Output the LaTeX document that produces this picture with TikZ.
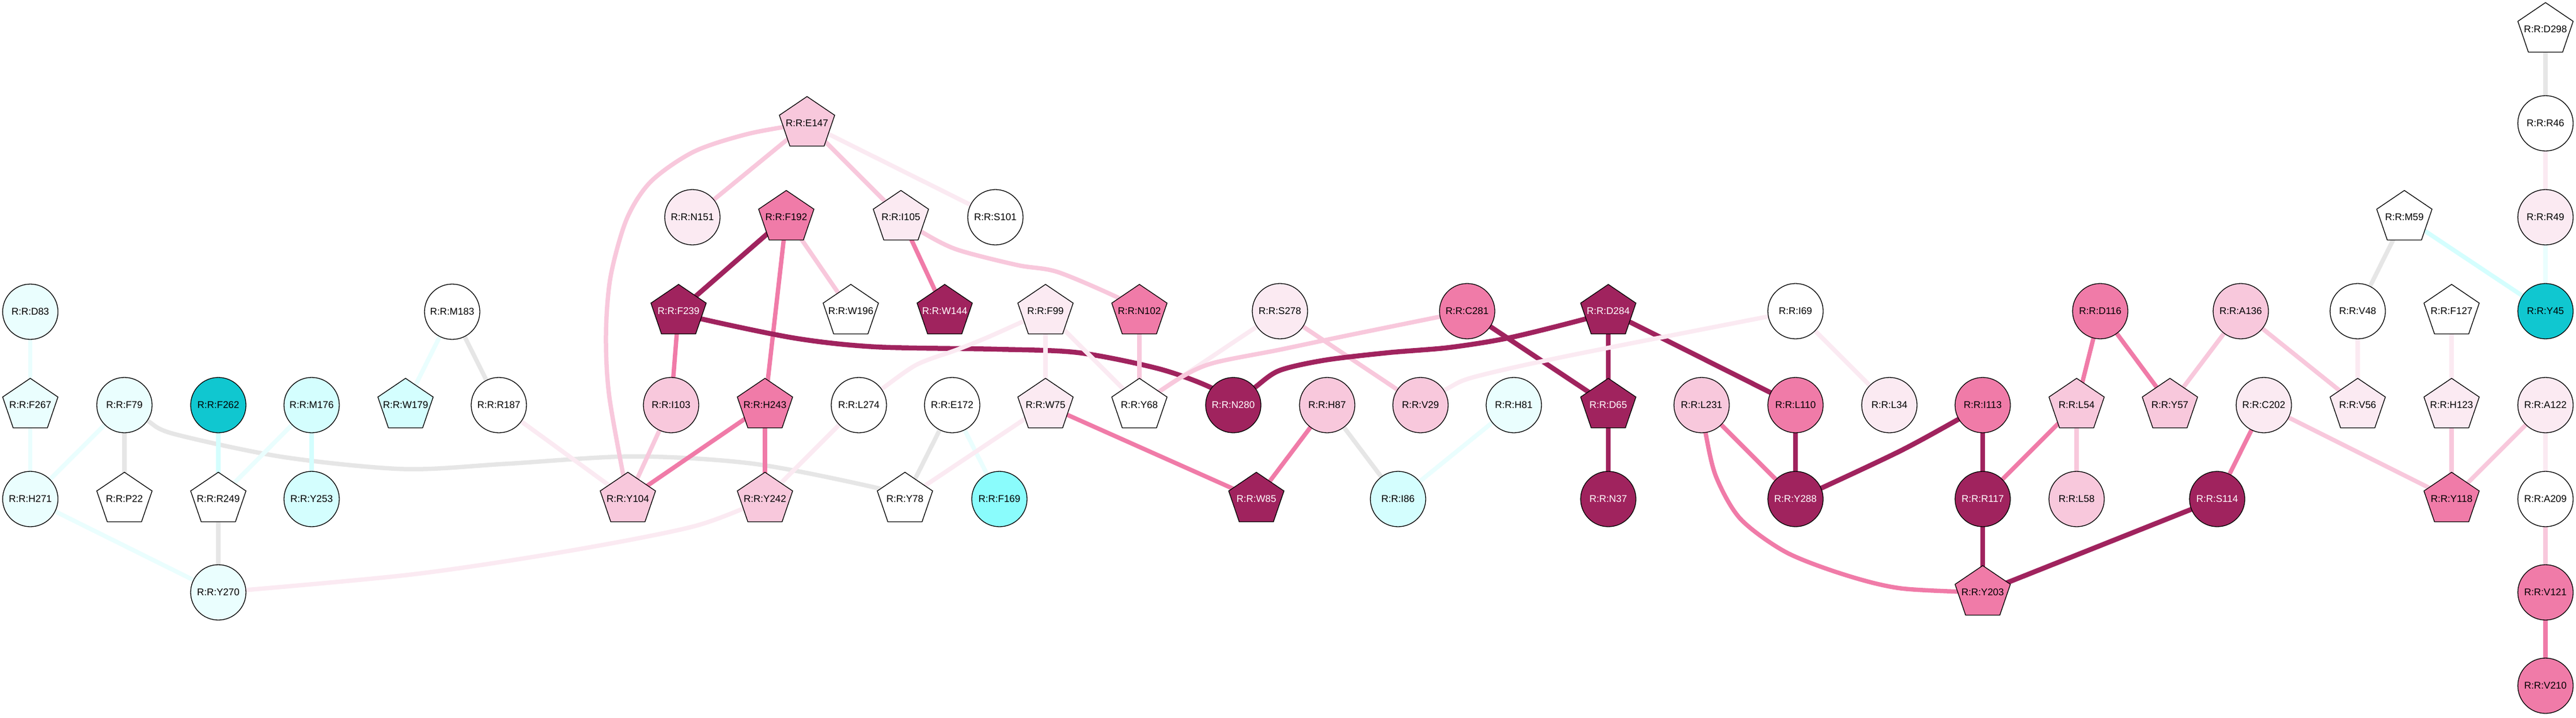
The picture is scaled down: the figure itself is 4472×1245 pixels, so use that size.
\documentclass[tikz,border=0pt]{standalone}
\usepackage{fontspec}
\setmainfont{Liberation Sans}
\pgfdeclarelayer{bg}
\pgfdeclarelayer{edges}
\pgfsetlayers{bg,edges,main}
\definecolor{cyv}{HTML}{EAFEFE}
\definecolor{cyl}{HTML}{D4FEFE}
\definecolor{cym}{HTML}{8AFCFC}
\definecolor{cys}{HTML}{10C7D0}
\definecolor{pkv}{HTML}{FBEAF2}
\definecolor{pkl}{HTML}{F8C8DC}
\definecolor{pkm}{HTML}{F07BA8}
\definecolor{pkd}{HTML}{A0235E}
\definecolor{grl}{HTML}{E6E6E6}
\tikzset{
  lbl/.style={inner sep=0pt, font=\fontsize{17}{20}\selectfont, text=black},
  circ/.style={circle, draw=black, line width=1.3pt, minimum size=96pt, inner sep=0pt, font=\fontsize{17}{20}\selectfont, text=black},
  pentpath/.style={draw=black, line width=1.3pt, line join=miter},
  wt/.style={text=white},
  edge/.style={line width=7.5pt, line cap=butt, line join=round},
  dk/.style={edge, draw=pkd, line width=8.5pt},
  md/.style={edge, draw=pkm},
  lt/.style={edge, draw=pkl},
  vl/.style={edge, draw=pkv},
  gr/.style={edge, draw=grl},
  cv/.style={edge, draw=cyv},
  cl/.style={edge, draw=cyl},
}
\newcommand{\cn}[5][]{\node[circ, fill=#5, #1] (#2) at (#3,#4) {R:R:#2};}
\newcommand{\pn}[5][]{\path[pentpath, fill=#5] (#3,#4) ++(0,-46.5) -- ++(48,32.5) -- ++(-18.3,53.5) -- ++(-59.4,0) -- ++(-18.3,-53.5) -- cycle;
  \node[lbl, #1] (#2) at (#3,#4) {R:R:#2};}
\begin{document}
\begin{tikzpicture}[x=1pt,y=-1pt]
\begin{pgfonlayer}{bg}
\fill[white] (0,0) rectangle (4472,1245);
\end{pgfonlayer}
\useasboundingbox (0,0) rectangle (4472,1245);
% left block
\cn{D83}{52.6}{541}{cyv}
\pn{F267}{52.6}{703}{cyv}
\cn{F79}{216}{703}{cyv}
\cn{F262}{379}{703}{cys}
\cn{M176}{541}{703}{cyl}
\pn{W179}{704}{703}{cyl}
\cn{R187}{866}{703}{white}
\cn{M183}{785}{541}{white}
\cn{H271}{52.6}{866}{cyv}
\pn{P22}{216}{866}{white}
\pn{R249}{379}{866}{white}
\cn{Y253}{541}{866}{cyl}
\cn{Y270}{379}{1028}{cyv}
% middle-left block
\pn{E147}{1401}{214}{pkl}
\cn{N151}{1202}{377}{pkv}
\pn{F192}{1365}{377}{pkm}
\pn{I105}{1564}{377}{pkv}
\cn{S101}{1728}{377}{white}
\pn[wt]{F239}{1178}{540}{pkd}
\pn{W196}{1477}{540}{white}
\pn[wt]{W144}{1640}{540}{pkd}
\pn{F99}{1815}{540}{pkv}
\pn{N102}{1978}{540}{pkm}
\cn{I103}{1165}{703}{pkl}
\pn{H243}{1328}{703}{pkm}
\cn{L274}{1491}{703}{white}
\cn{E172}{1653}{703}{white}
\pn{W75}{1815}{703}{pkv}
\pn{Y68}{1978}{703}{white}
\cn[wt]{N280}{2141}{703}{pkd}
\pn{Y104}{1090}{866}{pkl}
\pn{Y242}{1328}{866}{pkl}
\pn{Y78}{1571}{866}{white}
\cn{F169}{1735}{866}{cym}
\pn[wt]{W85}{2181}{866}{pkd}
% middle block
\cn{S278}{2222}{540}{pkv}
\cn{C281}{2547}{540}{pkm}
\pn[wt]{D284}{2792}{540}{pkd}
\cn{I69}{3117}{540}{white}
\cn{H87}{2304}{703}{pkl}
\cn{V29}{2466}{703}{pkl}
\cn{H81}{2628}{703}{cyv}
\pn[wt]{D65}{2792}{703}{pkd}
\cn{L231}{2954}{703}{pkl}
\cn{L110}{3117}{703}{pkm}
\cn{L34}{3280}{703}{pkv}
\cn{I86}{2427}{866}{cyl}
\cn[wt]{N37}{2792}{866}{pkd}
\cn[wt]{Y288}{3117}{866}{pkd}
% right block
\pn{D298}{4419}{51}{white}
\cn{R46}{4419}{214}{white}
\pn{M59}{4174}{377}{white}
\cn{R49}{4419}{377}{pkv}
\cn{D116}{3646}{540}{pkm}
\cn{A136}{3890}{540}{pkl}
\cn{V48}{4093}{540}{white}
\pn{F127}{4256}{540}{white}
\cn{Y45}{4419}{540}{cys}
\cn{I113}{3442}{703}{pkm}
\pn{L54}{3605}{703}{pkl}
\pn{Y57}{3767}{703}{pkl}
\cn{C202}{3930}{703}{pkv}
\pn{V56}{4093}{703}{pkv}
\pn{H123}{4256}{703}{pkv}
\cn{A122}{4419}{703}{pkv}
\cn[wt]{R117}{3442}{866}{pkd}
\cn{L58}{3605}{866}{pkl}
\cn[wt]{S114}{3849}{866}{pkd}
\pn{Y118}{4256}{866}{pkm}
\cn{A209}{4419}{866}{white}
\pn{Y203}{3442}{1028}{pkm}
\cn{V121}{4419}{1028}{pkm}
\cn{V210}{4419}{1190}{pkm}
\begin{pgfonlayer}{edges}
% left block
\draw[cv] (D83.center) -- (F267.center);
\draw[cv] (F267.center) -- (H271.center);
\draw[cv] (F79.center) -- (H271.center);
\draw[gr] (F79.center) -- (P22.center);
\draw[gr] plot[smooth] coordinates {(F79.center) (256,730) (302,753) (491,793) (701,814) (877,805) (1100,792) (1310,805) (1528,848) (Y78.center)};
\draw[cl] (F262.center) -- (R249.center);
\draw[cv] (M176.center) -- (R249.center);
\draw[cl] (M176.center) -- (Y253.center);
\draw[cv] (M183.center) -- (W179.center);
\draw[gr] (M183.center) -- (R187.center);
\draw[vl] (R187.center) -- (Y104.center);
\draw[cv] (H271.center) -- (Y270.center);
\draw[gr] (R249.center) -- (Y270.center);
\draw[vl] plot[smooth] coordinates {(Y270.center) (714,997) (982,957) (1206,913) (Y242.center)};
% middle-left
\draw[lt] plot[smooth] coordinates {(E147.center) (1300,232) (1205,263) (1130,315) (1088,380) (1060,480) (1052,580) (1058,690) (Y104.center)};
\draw[lt] (E147.center) -- (N151.center);
\draw[lt] (E147.center) -- (I105.center);
\draw[vl] (E147.center) -- (S101.center);
\draw[dk] (F192.center) -- (F239.center);
\draw[md] (F192.center) -- (H243.center);
\draw[lt] (F192.center) -- (W196.center);
\draw[md] (I105.center) -- (W144.center);
\draw[lt] plot[smooth] coordinates {(I105.center) (1601,403) (1661,433) (1766,460) (1836,472) (1942,517) (N102.center)};
\draw[md] (F239.center) -- (I103.center);
\draw[dk] plot[smooth] coordinates {(F239.center) (1216,553) (1381,587) (1521,602) (1731,606) (1872,612) (2012,640) (2103,673) (N280.center)};
\draw[lt] (I103.center) -- (Y104.center);
\draw[md] (H243.center) -- (Y104.center);
\draw[md] (H243.center) -- (Y242.center);
\draw[vl] plot[smooth] coordinates {(F99.center) (1720,583) (1661,607) (1591,633) (1528,677) (L274.center)};
\draw[vl] (F99.center) -- (W75.center);
\draw[vl] (F99.center) -- (Y68.center);
\draw[lt] (N102.center) -- (Y68.center);
\draw[vl] (L274.center) -- (Y242.center);
\draw[gr] (E172.center) -- (Y78.center);
\draw[cv] (E172.center) -- (F169.center);
\draw[vl] (W75.center) -- (Y78.center);
\draw[md] (W75.center) -- (W85.center);
% middle
\draw[vl] (S278.center) -- (Y68.center);
\draw[lt] (S278.center) -- (V29.center);
\draw[lt] plot[smooth] coordinates {(C281.center) (2340,582) (2221,607) (2106,630) (2050,655) (Y68.center)};
\draw[dk] (C281.center) -- (D65.center);
\draw[dk] plot[smooth] coordinates {(D284.center) (2754,553) (2621,586) (2516,603) (2410,612) (2300,625) (2221,643) (2179,672) (N280.center)};
\draw[dk] (D284.center) -- (D65.center);
\draw[dk] (D284.center) -- (L110.center);
\draw[vl] plot[smooth] coordinates {(I69.center) (2720,618) (2560,654) (2515,673) (V29.center)};
\draw[vl] (I69.center) -- (L34.center);
\draw[md] (H87.center) -- (W85.center);
\draw[gr] (H87.center) -- (I86.center);
\draw[cv] (H81.center) -- (I86.center);
\draw[dk] (D65.center) -- (N37.center);
\draw[md] (L231.center) -- (Y288.center);
\draw[md] plot[smooth] coordinates {(L231.center) (2961,752) (2979,827) (3021,900) (3100,958) (3201,997) (3300,1021) (Y203.center)};
\draw[dk] (L110.center) -- (Y288.center);
\draw[dk] plot[smooth] coordinates {(I113.center) (3401,727) (3300,782) (3162,847) (Y288.center)};
% right
\draw[dk] (I113.center) -- (R117.center);
\draw[md] (L54.center) -- (R117.center);
\draw[lt] (L54.center) -- (L58.center);
\draw[md] (D116.center) -- (L54.center);
\draw[md] (D116.center) -- (Y57.center);
\draw[lt] (A136.center) -- (Y57.center);
\draw[lt] (A136.center) -- (V56.center);
\draw[vl] (V48.center) -- (V56.center);
\draw[gr] (M59.center) -- (V48.center);
\draw[cl] (M59.center) -- (Y45.center);
\draw[gr] (D298.center) -- (R46.center);
\draw[vl] (R46.center) -- (R49.center);
\draw[cv] (R49.center) -- (Y45.center);
\draw[vl] (F127.center) -- (H123.center);
\draw[lt] (H123.center) -- (Y118.center);
\draw[lt] (A122.center) -- (Y118.center);
\draw[lt] (C202.center) -- (Y118.center);
\draw[md] (C202.center) -- (S114.center);
\draw[dk] (S114.center) -- (Y203.center);
\draw[dk] (R117.center) -- (Y203.center);
\draw[vl] (A122.center) -- (A209.center);
\draw[lt] (A209.center) -- (V121.center);
\draw[md] (V121.center) -- (V210.center);
\end{pgfonlayer}
\end{tikzpicture}
\end{document}
